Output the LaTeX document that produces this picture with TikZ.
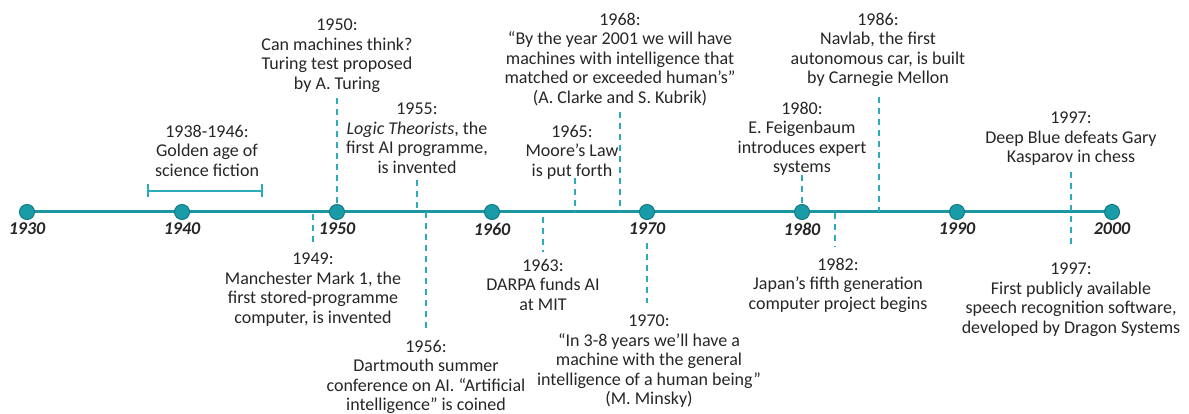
\documentclass[tikz,border=0pt]{standalone}
\usepackage{fontspec}
\setmainfont{Carlito}
\definecolor{axisc}{HTML}{1B97A4}
\definecolor{dotc}{HTML}{1A9CA8}
\definecolor{dotedge}{HTML}{127A85}
\definecolor{dashc}{HTML}{2AACBD}
\definecolor{txt}{HTML}{262626}
\tikzset{
  axisline/.style={draw=axisc, line width=3pt},
  yeardot/.style={circle, fill=dotc, draw=dotedge, line width=1pt, minimum size=15pt, inner sep=0pt},
  yearlbl/.style={font=\fontsize{18}{20}\selectfont\bfseries\itshape, text=txt, inner sep=0pt},
  evt/.style={align=center, font=\fontsize{18}{19.4}\selectfont, text=txt, inner sep=0pt, anchor=north},
  conn/.style={draw=dashc, line width=2pt, dash pattern=on 6pt off 5pt},
  bracketline/.style={draw=dashc, line width=2pt}
}
\begin{document}
\begin{tikzpicture}[x=1pt,y=-1pt]
\useasboundingbox (0,0) rectangle (1189,414);
% axis
\coordinate (a1930) at (27,212);
\coordinate (a2000) at (1112,212);
\draw[axisline] (a1930) -- (a2000);
% dots and year labels
\foreach \yr/\xx in {1930/27,1940/182,1950/337,1960/492,1970/647,1980/802,1990/957,2000/1112}{
  \node[yeardot] (y\yr) at (\xx,212) {};
  \node[yearlbl] (l\yr) at (\xx,229) {\yr};
}
% bracket 1938-1946
\coordinate (b1) at (148,191);
\coordinate (b2) at (262,191);
\coordinate (b1t) at (148,184);
\coordinate (b1b) at (148,197);
\coordinate (b2t) at (262,184);
\coordinate (b2b) at (262,197);
\draw[bracketline] (b1) -- (b2);
\draw[bracketline] (b1t) -- (b1b);
\draw[bracketline] (b2t) -- (b2b);
% events above
\node[evt] (e1938) at (207,125) {1938-1946:\\Golden age of\\science fiction};
\node[evt] (e1950) at (337,19) {1950:\\Can machines think?\\Turing test proposed\\by A. Turing};
\node[evt] (e1955) at (417,103) {1955:\\\textit{Logic Theorists}, the\\first AI programme,\\is invented};
\node[evt] (e1965) at (572,125) {1965:\\Moore’s Law\\is put forth};
\node[evt] (e1968) at (620,13) {1968:\\“By the year 2001 we will have\\machines with intelligence that\\matched or exceeded human’s”\\(A. Clarke and S. Kubrik)};
\node[evt] (e1980) at (802,102) {1980:\\E. Feigenbaum\\introduces expert\\systems};
\node[evt] (e1986) at (878,13) {1986:\\Navlab, the first\\autonomous car, is built\\by Carnegie Mellon};
\node[evt] (e1997a) at (1071,112) {1997:\\Deep Blue defeats Gary\\Kasparov in chess};
% events below
\node[evt] (e1949) at (313,253) {1949:\\Manchester Mark 1, the\\first stored-programme\\computer, is invented};
\node[evt] (e1956) at (426,340) {1956:\\Dartmouth summer\\conference on AI. “Artificial\\intelligence” is coined};
\node[evt] (e1963) at (543,259) {1963:\\DARPA funds AI\\at MIT};
\node[evt] (e1970) at (649,315) {1970:\\“In 3-8 years we’ll have a\\machine with the general\\intelligence of a human being”\\(M. Minsky)};
\node[evt] (e1982) at (838,258) {1982:\\Japan’s fifth generation\\computer project begins};
\node[evt] (e1997b) at (1071,263) {1997:\\First publicly available\\speech recognition software,\\developed by Dragon Systems};
% dashed connectors
\coordinate (c1949a) at (313,214); \coordinate (c1949b) at (313,247);
\coordinate (c1950a) at (337,98);  \coordinate (c1950b) at (337,205);
\coordinate (c1955a) at (417,180); \coordinate (c1955b) at (417,212);
\coordinate (c1956a) at (426,212); \coordinate (c1956b) at (426,328);
\coordinate (c1963a) at (543,217); \coordinate (c1963b) at (543,252);
\coordinate (c1965a) at (575,178); \coordinate (c1965b) at (575,212);
\coordinate (c1968a) at (620,112); \coordinate (c1968b) at (620,212);
\coordinate (c1970a) at (647,243); \coordinate (c1970b) at (647,303);
\coordinate (c1980a) at (802,175); \coordinate (c1980b) at (802,205);
\coordinate (c1982a) at (835,213); \coordinate (c1982b) at (835,247);
\coordinate (c1986a) at (879,97);  \coordinate (c1986b) at (879,212);
\coordinate (c1997a) at (1071,172); \coordinate (c1997b) at (1071,247);
\foreach \c in {1949,1950,1955,1956,1963,1965,1968,1970,1980,1982,1986,1997}{
  \draw[conn] (c\c a) -- (c\c b);
}
\end{tikzpicture}
\end{document}
